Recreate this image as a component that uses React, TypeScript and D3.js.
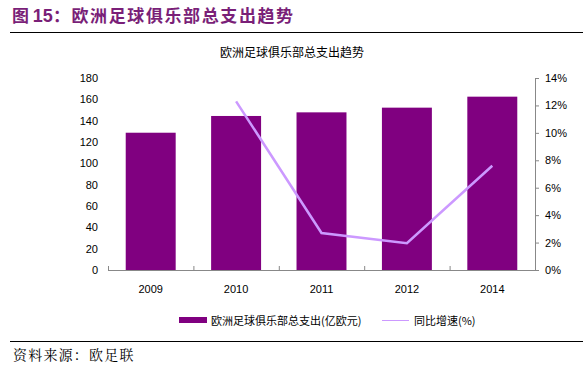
import * as React from 'react'
import * as d3 from 'd3'

const years = ['2009', '2010', '2011', '2012', '2014']
const spending = [128.7, 144.4, 147.8, 152.2, 162.5]
const growth: (number | null)[] = [null, 12.3, 2.7, 1.95, 7.6]
const leftTicks = [0, 20, 40, 60, 80, 100, 120, 140, 160, 180]
const rightTicks = [0, 2, 4, 6, 8, 10, 12, 14]

const W = 583
const H = 372
const font = 'Arial, "Liberation Sans", "Noto Sans CJK SC", sans-serif'
const cjk = '"Noto Sans CJK SC", sans-serif'
const serifCjk = '"Noto Serif CJK SC", "Noto Sans CJK SC", serif'

export default function App() {
    const margin = { left: 108, right: 48, top: 78, bottom: 102 }
    const x = d3.scaleBand<string>().domain(years).range([margin.left, W - margin.right]).paddingInner(0.415).paddingOuter(0.2075)
    const band = d3.scaleBand<string>().domain(years).range([margin.left, W - margin.right])
    const y = d3.scaleLinear().domain([0, 180]).range([H - margin.bottom, margin.top])
    const y2 = d3.scaleLinear().domain([0, 14]).range([H - margin.bottom, margin.top])

    const pts = years.map((yr, i) => ({ yr, v: growth[i] })).filter(d => d.v !== null) as { yr: string, v: number }[]
    const line = d3.line<{ yr: string, v: number }>()
        .x(d => (band(d.yr) as number) + band.bandwidth() / 2)
        .y(d => y2(d.v))

    const base = y(0)
    const rightX = W - margin.right

    return (
        <svg width={W} height={H} style={{ position: 'absolute', left: 0, top: 0, background: '#fff' }}>
            <text x={12} y={22} fontFamily={cjk} fontSize={17} fill='#7a1f78' fontWeight='bold'>
                <tspan>图 </tspan>
                <tspan fontFamily={font} fontSize={18}>15</tspan>
                <tspan letterSpacing={1.6}>：欧洲足球俱乐部总支出趋势</tspan>
            </text>
            <line x1={10} x2={W} y1={32.5} y2={32.5} stroke='#000' strokeWidth={1.2} />
            <text x={292} y={57} textAnchor='middle' fontFamily={cjk} fontSize={12} fill='#000'>欧洲足球俱乐部总支出趋势</text>

            {/* bars */}
            {years.map((yr, i) => (
                <rect key={yr} x={x(yr)} y={y(spending[i])} width={x.bandwidth()} height={base - y(spending[i])} fill='#800080' />
            ))}

            {/* x axis */}
            <line x1={margin.left} x2={rightX} y1={base + 0.5} y2={base + 0.5} stroke='#888' />
            {years.map((yr, i) => (
                <g key={yr}>
                    <line x1={(band(yr) as number) + 0.5} x2={(band(yr) as number) + 0.5} y1={base - 4} y2={base} stroke='#888' />
                    <text x={(band(yr) as number) + band.bandwidth() / 2} y={base + 23} textAnchor='middle' fontFamily={font} fontSize={11}>{yr}</text>
                </g>
            ))}

            {/* left ticks */}
            {leftTicks.map(t => (
                <text key={t} x={98} y={y(t) + 4} textAnchor='end' fontFamily={font} fontSize={11}>{t}</text>
            ))}

            {/* right axis */}
            <line x1={rightX + 0.5} x2={rightX + 0.5} y1={y2(14)} y2={base} stroke='#888' />
            {rightTicks.map(t => (
                <g key={t}>
                    <line x1={rightX} x2={rightX + 4} y1={y2(t) + 0.5} y2={y2(t) + 0.5} stroke='#888' />
                    <text x={rightX + 10} y={y2(t) + 4} fontFamily={font} fontSize={11}>{t}%</text>
                </g>
            ))}

            <path d={line(pts) as string} fill='none' stroke='#cc99ff' strokeWidth={2.5} />

            {/* legend */}
            <rect x={179} y={317} width={28} height={6} fill='#800080' />
            <text x={211} y={325} fontFamily={cjk} fontSize={11}>欧洲足球俱乐部总支出(亿欧元)</text>
            <line x1={382} x2={409} y1={320.5} y2={320.5} stroke='#cc99ff' strokeWidth={1} />
            <text x={414} y={325} fontFamily={cjk} fontSize={11}>同比增速(%)</text>

            <line x1={10} x2={W} y1={341.5} y2={341.5} stroke='#000' strokeWidth={1.2} />
            <text x={13} y={360} fontFamily={serifCjk} fontSize={14} letterSpacing={1.2} fill='#000'>资料来源：欧足联</text>
        </svg>
    )
}
